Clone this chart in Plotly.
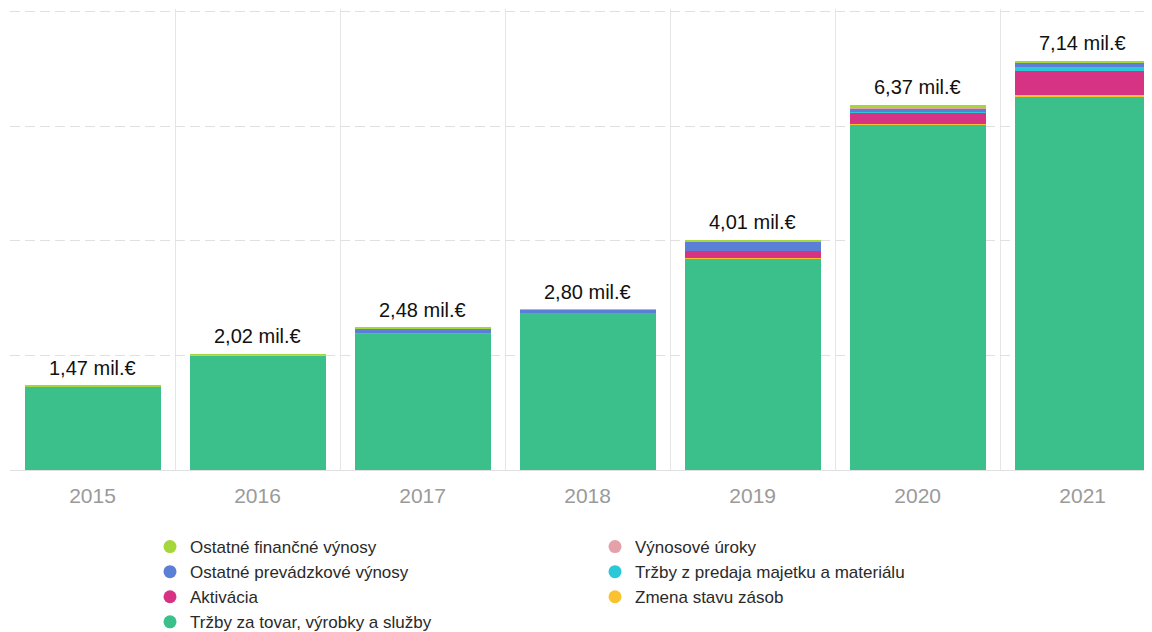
import plotly.graph_objects as go

years = ["2015", "2016", "2017", "2018", "2019", "2020", "2021"]

# values in mil. EUR, stacked bottom -> top
trzby_tovar = [1.455, 2.005, 2.380, 2.745, 3.700, 6.040, 6.520]
zmena_zasob = [0.005, 0.005, 0.000, 0.000, 0.010, 0.010, 0.020]
aktivacia = [0.000, 0.000, 0.000, 0.000, 0.120, 0.200, 0.420]
trzby_majetok = [0.000, 0.000, 0.015, 0.000, 0.000, 0.010, 0.070]
ost_prevadzkove = [0.000, 0.000, 0.070, 0.050, 0.165, 0.060, 0.085]
vynosove_uroky = [0.000, 0.000, 0.000, 0.000, 0.000, 0.005, 0.005]
ost_financne = [0.010, 0.010, 0.015, 0.005, 0.015, 0.045, 0.020]

series = [
    ("Tržby za tovar, výrobky a služby", trzby_tovar, "#3bbf8b"),
    ("Zmena stavu zásob", zmena_zasob, "#f9c22e"),
    ("Aktivácia", aktivacia, "#d63384"),
    ("Tržby z predaja majetku a materiálu", trzby_majetok, "#2bc8d8"),
    ("Ostatné prevádzkové výnosy", ost_prevadzkove, "#5b7fd6"),
    ("Výnosové úroky", vynosove_uroky, "#e4a1a8"),
    ("Ostatné finančné výnosy", ost_financne, "#a5d63a"),
]

legend_order = [
    "Ostatné finančné výnosy",
    "Výnosové úroky",
    "Ostatné prevádzkové výnosy",
    "Tržby z predaja majetku a materiálu",
    "Aktivácia",
    "Zmena stavu zásob",
    "Tržby za tovar, výrobky a služby",
]

FONT = "Liberation Sans, Arial, sans-serif"

fig = go.Figure()
for name, vals, color in series:
    fig.add_trace(go.Bar(
        x=years, y=vals, name=name, marker=dict(color=color, line=dict(width=0)),
        showlegend=False, hoverinfo="name+y",
    ))

colors = {n: c for n, _, c in series}
for name in legend_order:
    fig.add_trace(go.Scatter(
        x=[None], y=[None], mode="markers", name=name,
        marker=dict(symbol="circle", size=13, color=colors[name]),
        showlegend=True,
    ))

totals = [sum(s[1][i] for s in series) for i in range(len(years))]
for i, t in enumerate(totals):
    fig.add_annotation(
        x=i, y=t, xref="x", yref="y",
        text=f"{t:.2f}".replace(".", ",") + " mil.€",
        showarrow=False, yanchor="bottom", yshift=5,
        font=dict(family=FONT, size=20, color="#111111"),
    )

# page body adds an 8px offset; figure sized to fit the 1152x632 window
fig.update_layout(
    width=1144, height=624,
    margin=dict(l=2, r=0, t=1, b=162, autoexpand=False),
    barmode="stack", bargap=0.176,
    plot_bgcolor="white", paper_bgcolor="white",
    font=dict(family=FONT),
    legend=dict(
        orientation="h", x=0.1226, xanchor="left", y=-0.128, yanchor="top",
        entrywidth=400, traceorder="normal",
        font=dict(family=FONT, size=17, color="#2a2a2a"),
        bgcolor="rgba(0,0,0,0)",
    ),
    xaxis=dict(
        type="category", range=[-0.5, 6.42], tickson="boundaries",
        showgrid=True, gridcolor="#e6e6e6", gridwidth=1,
        showline=True, linecolor="#e0e0e0", linewidth=1,
        ticks="", ticklabelstandoff=7,
        tickfont=dict(family=FONT, size=21, color="#9a9a9a"),
        fixedrange=True,
    ),
    yaxis=dict(
        range=[0, 8.05], tickvals=[0, 2, 4, 6, 8], showticklabels=False,
        showgrid=True, gridcolor="#e0e0e0", gridwidth=1, griddash="10px,5px",
        zeroline=False, showline=False, ticks="", fixedrange=True,
    ),
)

fig.write_html("out.html")
